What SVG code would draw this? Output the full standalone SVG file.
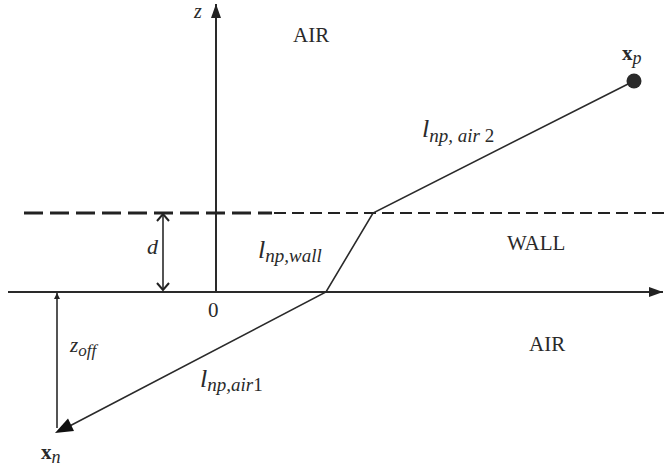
<svg xmlns="http://www.w3.org/2000/svg" width="664" height="472" viewBox="0 0 664 472">
<defs>
<style>
text{font-family:"Liberation Serif","Times New Roman",serif;fill:#2a2a2a}
.it{font-style:italic}
.up{font-style:normal}
.bd{font-weight:bold}
.ax{stroke:#2a2a2a;stroke-width:2;fill:none}
.ln{stroke:#2a2a2a;stroke-width:1.6;fill:none}
.dthick{stroke:#222;stroke-width:3;stroke-dasharray:19 7;fill:none}
.dthin{stroke:#222;stroke-width:1.8;stroke-dasharray:12 6;fill:none}
.chev{stroke:#222;stroke-width:2;fill:none}
</style>
<marker id="ah" markerWidth="14" markerHeight="10" refX="14" refY="5" orient="auto" markerUnits="userSpaceOnUse">
<path d="M0,0 L14,5 L0,10 Z" fill="#222"/>
</marker>
</defs>
<rect width="664" height="472" fill="#fff"/>
<g id="connectors">
<line class="ax" x1="8" y1="292" x2="663" y2="292" marker-end="url(#ah)"/>
<line class="ax" x1="216" y1="292" x2="216" y2="4" marker-end="url(#ah)"/>
<line class="dthick" x1="24" y1="213" x2="272" y2="213"/>
<line class="dthin" x1="274" y1="213" x2="664" y2="213"/>
<line class="ln" x1="163" y1="214" x2="163" y2="290"/>
<path class="chev" d="M157,221 L163,214 L169,221"/>
<path class="chev" d="M157,283 L163,290 L169,283"/>
<line class="ln" x1="57" y1="293" x2="57" y2="428"/>
<path d="M54,299 L57,293 L60,299 Z" fill="#222"/>
<polyline class="ln" points="634,81 373,213 326,292 62,430"/>
<path d="M55,433 L74,431 L68,418.5 Z" fill="#111"/>
</g>
<g id="xp">
<circle cx="634" cy="81" r="7.5" fill="#2a2a2a"/>
<text x="622" y="60" font-size="21" class="bd">x<tspan class="it" font-weight="normal" font-size="18" dy="4">p</tspan></text>
</g>
<g id="xn">
<text x="41" y="459" font-size="21" class="bd">x<tspan class="it" font-weight="normal" font-size="18" dy="4">n</tspan></text>
</g>
<g id="labels">
<text x="194" y="18" font-size="20" class="it">z</text>
<text x="293" y="42" font-size="21">AIR</text>
<text x="507" y="250" font-size="21">WALL</text>
<text x="529" y="351" font-size="21">AIR</text>
<text x="208" y="317" font-size="21">0</text>
<text x="147" y="254" font-size="22" class="it">d</text>
<text x="70" y="352" font-size="21" class="it">z<tspan font-size="17" dy="4">off</tspan></text>
<text x="422" y="137" font-size="26" class="it">l<tspan font-size="19" dy="5">np, air <tspan class="up">2</tspan></tspan></text>
<text x="258" y="258" font-size="26" class="it">l<tspan font-size="19" dy="4">np,wall</tspan></text>
<text x="200" y="387" font-size="26" class="it">l<tspan font-size="19" dy="4">np,air<tspan class="up">1</tspan></tspan></text>
</g>
</svg>
